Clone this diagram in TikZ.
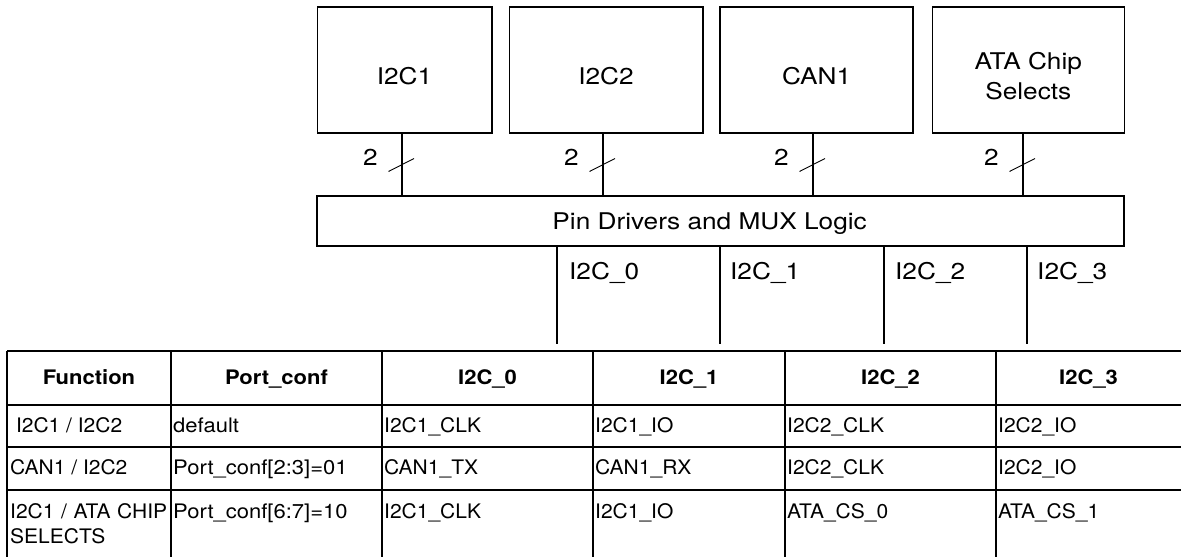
\documentclass[tikz,border=0pt]{standalone}
\usepackage{fontspec}
\setmainfont[FakeStretch=1.14]{TeX Gyre Heros}
\newfontfamily\hdrfont[FakeStretch=1.1]{TeX Gyre Heros}
\newfontfamily\cellfont[FakeStretch=1.05]{TeX Gyre Heros}
\usetikzlibrary{calc}
\begin{document}
\begin{tikzpicture}[x=1pt,y=-1pt,
  box/.style={draw,line width=1.6pt,inner sep=0pt,minimum height=126pt},
  boxtext/.style={font=\fontsize{23}{30}\selectfont,align=center,inner sep=0pt},
  wire/.style={line width=1.6pt},
  slashmark/.style={line width=0.9pt},
  buslbl/.style={font=\fontsize{23}{26}\selectfont,inner sep=0pt},
  gridline/.style={line width=1.5pt},
  hdr/.style={font=\hdrfont\bfseries\fontsize{20}{24}\selectfont,inner sep=0pt,anchor=base},
  cell/.style={font=\cellfont\fontsize{20}{25.7}\selectfont,inner sep=0pt,anchor=base west},
  confcell/.style={cell,font=\hdrfont\fontsize{20}{25.7}\selectfont}]
\useasboundingbox (0,0) rectangle (1181,557);

% top blocks
\node[box,minimum width=174.4pt,label={[boxtext,yshift=-6pt]center:I2C1}] (b1) at (404.5,70) {};
\node[box,minimum width=193.4pt,label={[boxtext,yshift=-6pt]center:I2C2}] (b2) at (606,70) {};
\node[box,minimum width=193.3pt,label={[boxtext,yshift=-6pt]center:CAN1}] (b3) at (816.6,70) {};
\node[box,minimum width=192pt,label={[boxtext,yshift=-6.5pt]center:ATA Chip\\Selects}] (b4) at (1028.3,70) {};

% mux box
\node[box,minimum width=807pt,minimum height=50pt,
      label={[boxtext,xshift=-11pt,yshift=-2.5pt]center:Pin Drivers and MUX Logic}] (pin) at (720.6,221) {};

% bus connectors with width marks
\coordinate (t1) at ([xshift=-2.5pt]b1.south);
\coordinate (t2) at ([xshift=-3pt]b2.south);
\coordinate (t3) at ([xshift=-3.6pt]b3.south);
\coordinate (t4) at ([xshift=-5.3pt]b4.south);
\foreach \i in {1,2,3,4}{
  \draw[wire] (t\i) -- coordinate (m\i) (t\i |- pin.north);
  \draw[slashmark] ([shift={(-13.5,7)}]m\i) -- ([shift={(12,-6)}]m\i);
  \node[buslbl,anchor=base] (n\i) at ([shift={(-31.5,1)}]m\i) {2};
}

% outputs
\coordinate (o0) at (557,344);
\coordinate (o1) at (720,344);
\coordinate (o2) at (884,344);
\coordinate (o3) at (1027,344);
\foreach \i in {0,1,2,3}{
  \draw[wire] (o\i |- pin.south) -- (o\i);
}
\node[buslbl,anchor=base west] (l0) at (569,279) {I2C\_0};
\node[buslbl,anchor=base west] (l1) at (730,279) {I2C\_1};
\node[buslbl,anchor=base west] (l2) at (895,279) {I2C\_2};
\node[buslbl,anchor=base west] (l3) at (1037,279) {I2C\_3};

% table grid
\foreach \yy in {351,405,447,490}{
  \draw[gridline] (7,\yy) -- (1181,\yy);
}
\foreach \xx in {7,171,382,593,785,996}{
  \draw[gridline] (\xx,351) -- (\xx,557);
}

% header
\node[hdr] (h0) at (89,384) {Function};
\node[hdr] (h1) at (276.5,384) {Port\_conf};
\node[hdr] (h2) at (487.5,384) {I2C\_0};
\node[hdr] (h3) at (689,384) {I2C\_1};
\node[hdr] (h4) at (890.5,384) {I2C\_2};
\node[hdr] (h5) at (1088.5,384) {I2C\_3};

% row 1
\node[cell] (r1c0) at (10,432) {\ I2C1 / I2C2};
\node[confcell] (r1c1) at (173,432) {default};
\node[cell] (r1c2) at (384,432) {I2C1\_CLK};
\node[cell] (r1c3) at (595,432) {I2C1\_IO};
\node[cell] (r1c4) at (787,432) {I2C2\_CLK};
\node[cell] (r1c5) at (998,432) {I2C2\_IO};
% row 2
\node[cell] (r2c0) at (10,474) {CAN1 / I2C2};
\node[confcell] (r2c1) at (173,474) {Port\_conf[2:3]=01};
\node[cell] (r2c2) at (384,474) {CAN1\_TX};
\node[cell] (r2c3) at (595,474) {CAN1\_RX};
\node[cell] (r2c4) at (787,474) {I2C2\_CLK};
\node[cell] (r2c5) at (998,474) {I2C2\_IO};
% row 3
\node[cell,text width=165pt,align=left] (r3c0) at (10,518) {I2C1 / ATA CHIP\\SELECTS};
\node[confcell] (r3c1) at (173,518) {Port\_conf[6:7]=10};
\node[cell] (r3c2) at (384,518) {I2C1\_CLK};
\node[cell] (r3c3) at (595,518) {I2C1\_IO};
\node[cell] (r3c4) at (787,518) {ATA\_CS\_0};
\node[cell] (r3c5) at (998,518) {ATA\_CS\_1};
\end{tikzpicture}
\end{document}
